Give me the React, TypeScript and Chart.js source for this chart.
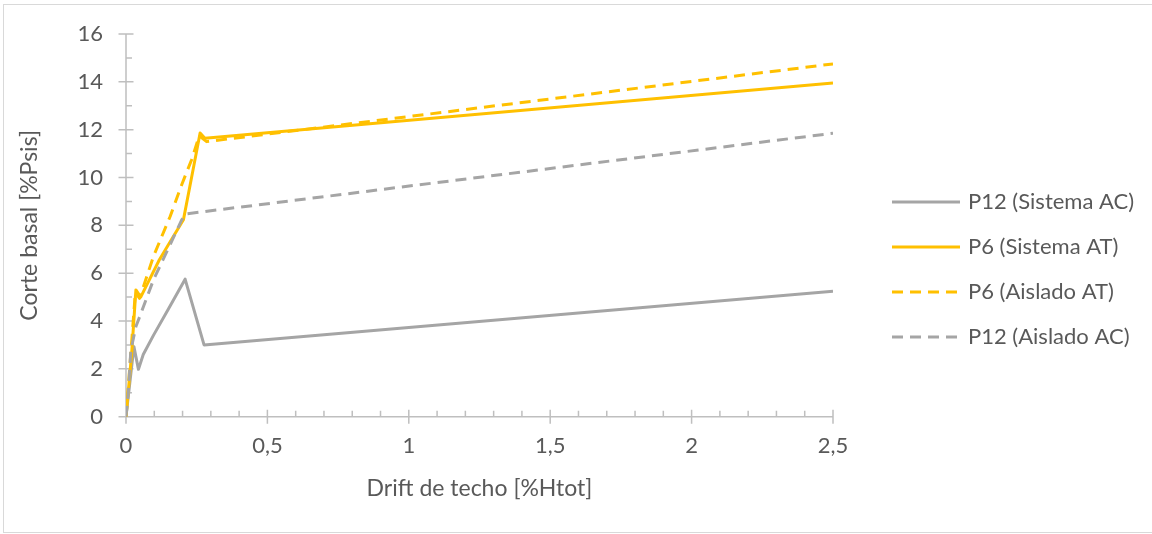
import React, { useEffect, useRef } from 'react';
import { Chart, registerables } from 'chart.js';

Chart.register(...registerables);

// ---- Data ----
const seriesNames = ['P12 (Sistema AC)', 'P6 (Sistema AT)', 'P6 (Aislado AT)', 'P12 (Aislado AC)'];

const p12SistemaACX = [0, 0.028, 0.044, 0.061, 0.097, 0.15, 0.209, 0.276, 2.5];
const p12SistemaACY = [0, 2.93, 1.98, 2.6, 3.4, 4.5, 5.75, 3.0, 5.25];

const p6SistemaATX = [0, 0.02, 0.035, 0.052, 0.118, 0.203, 0.24, 0.262, 0.279, 2.5];
const p6SistemaATY = [0, 2.65, 5.3, 5.0, 6.56, 8.23, 10.5, 11.86, 11.64, 13.95];

const p6AisladoATX = [0, 0.018, 0.033, 0.048, 0.097, 0.156, 0.197, 0.232, 0.259, 0.285, 2.5];
const p6AisladoATY = [0, 2.8, 5.2, 4.95, 6.7, 8.37, 9.7, 10.74, 11.74, 11.5, 14.75];

const p12AisladoACX = [0, 0.008, 0.017, 0.035, 0.049, 0.097, 0.15, 0.197, 0.212, 2.5];
const p12AisladoACY = [0, 0.98, 2.76, 3.77, 4.2, 5.72, 7.04, 8.23, 8.48, 11.85];

const xTickLabels = ['0', '0,5', '1', '1,5', '2', '2,5'];
const yTickLabels = ['0', '2', '4', '6', '8', '10', '12', '14', '16'];

const xTitle = 'Drift de techo [%Htot]';
const yTitle = 'Corte basal [%Psis]';

// ---- Styles ----
const GRAY = '#A5A5A5';
const GOLD = '#FFC000';
const TEXT = '#595959';
const AXIS = '#BFBFBF';
const FONT = 'Lato, "Open Sans", sans-serif';

const toPoints = (xs: number[], ys: number[]) => xs.map((x, i) => ({ x, y: ys[i] }));

const axisPlugin = {
  id: 'excelAxes',
  beforeDatasetsDraw(chart: any) {
    const { ctx, scales } = chart;
    const x = scales.x;
    const y = scales.y;
    const x0 = x.getPixelForValue(0);
    const yb = y.getPixelForValue(0);
    ctx.save();
    ctx.strokeStyle = AXIS;
    ctx.lineWidth = 1.5;
    ctx.beginPath();
    ctx.moveTo(x.left, yb);
    ctx.lineTo(x.right, yb);
    ctx.moveTo(x0, y.top);
    ctx.lineTo(x0, y.bottom);
    x.ticks.forEach((t: any) => {
      const px = x.getPixelForValue(t.value);
      ctx.moveTo(px, yb - 7);
      ctx.lineTo(px, yb + 7);
    });
    for (let i = 0; i <= 25; i++) {
      const px = x.getPixelForValue(i * 0.1);
      ctx.moveTo(px, yb);
      ctx.lineTo(px, yb - 6);
    }
    y.ticks.forEach((t: any) => {
      const py = y.getPixelForValue(t.value);
      ctx.moveTo(x0 - 7.5, py);
      ctx.lineTo(x0 + 7.5, py);
    });
    for (let i = 0; i <= 16; i++) {
      const py = y.getPixelForValue(i);
      ctx.moveTo(x0, py);
      ctx.lineTo(x0 + 6, py);
    }
    ctx.stroke();
    ctx.restore();
  },
};

const legendPlugin = {
  id: 'excelLegend',
  afterDraw(chart: any) {
    const { ctx } = chart;
    const lineX0 = 892;
    const lineX1 = 960;
    const textX = 968;
    const y0 = 202;
    const step = 45;
    ctx.save();
    chart.data.datasets.forEach((ds: any, i: number) => {
      const yy = y0 + i * step;
      ctx.beginPath();
      ctx.strokeStyle = ds.borderColor;
      ctx.lineWidth = ds.borderWidth;
      ctx.lineCap = 'butt';
      ctx.setLineDash(ds.borderDash || []);
      ctx.moveTo(lineX0, yy);
      ctx.lineTo(lineX1, yy);
      ctx.stroke();
      ctx.setLineDash([]);
      ctx.fillStyle = TEXT;
      ctx.font = `22px ${FONT}`;
      ctx.textAlign = 'left';
      ctx.textBaseline = 'middle';
      ctx.fillText(ds.label, textX, yy);
    });
    ctx.restore();
  },
};

const borderPlugin = {
  id: 'frame',
  beforeDraw(chart: any) {
    const { ctx } = chart;
    ctx.save();
    ctx.fillStyle = '#FFFFFF';
    ctx.fillRect(0, 0, chart.width, chart.height);
    ctx.strokeStyle = '#D9D9D9';
    ctx.lineWidth = 1;
    ctx.strokeRect(3.5, 4.5, chart.width + 10, 528);
    ctx.restore();
  },
};

export default function App() {
  const ref = useRef<HTMLCanvasElement>(null);

  useEffect(() => {
    const canvas = ref.current;
    if (!canvas) return;
    const dash = [11, 7];
    const chart = new Chart(canvas, {
      type: 'line',
      data: {
        datasets: [
          { label: seriesNames[0], data: toPoints(p12SistemaACX, p12SistemaACY), borderColor: GRAY, backgroundColor: GRAY, borderWidth: 3, order: 3 },
          { label: seriesNames[1], data: toPoints(p6SistemaATX, p6SistemaATY), borderColor: GOLD, backgroundColor: GOLD, borderWidth: 3, order: 2 },
          { label: seriesNames[2], data: toPoints(p6AisladoATX, p6AisladoATY), borderColor: GOLD, backgroundColor: GOLD, borderWidth: 3, borderDash: dash, order: 1 },
          { label: seriesNames[3], data: toPoints(p12AisladoACX, p12AisladoACY), borderColor: GRAY, backgroundColor: GRAY, borderWidth: 3, borderDash: dash, order: 0 },
        ] as any,
      },
      options: {
        responsive: false,
        animation: false,
        parsing: false as any,
        elements: {
          point: { radius: 0, hoverRadius: 0 },
          line: { tension: 0, fill: false, borderCapStyle: 'butt', borderJoinStyle: 'round' },
        },
        layout: { padding: { left: 0, top: 34, right: 319, bottom: 0 } },
        plugins: {
          legend: { display: false },
          tooltip: { enabled: false },
        },
        scales: {
          x: {
            type: 'linear',
            min: 0,
            max: 2.5,
            grid: { display: false },
            border: { display: false },
            ticks: {
              stepSize: 0.5,
              padding: 8,
              color: TEXT,
              font: { family: FONT, size: 22 },
              maxRotation: 0,
              autoSkip: false,
              callback: (_v: any, i: number) => xTickLabels[i],
            },
            title: {
              display: true,
              text: xTitle,
              color: TEXT,
              font: { family: FONT, size: 23 },
              padding: { top: 0, bottom: 32 },
            },
            afterFit: (s: any) => {
              s.height = 117.3;
            },
          },
          y: {
            type: 'linear',
            min: 0,
            max: 16,
            grid: { display: false },
            border: { display: false },
            ticks: {
              stepSize: 2,
              padding: 15,
              color: TEXT,
              font: { family: FONT, size: 22 },
              autoSkip: false,
              callback: (_v: any, i: number) => yTickLabels[i],
            },
            title: {
              display: true,
              text: yTitle,
              color: TEXT,
              font: { family: FONT, size: 23 },
              padding: { top: 16, bottom: 0 },
            },
            afterFit: (s: any) => {
              s.width = 126;
            },
          },
        },
      } as any,
      plugins: [borderPlugin, axisPlugin, legendPlugin],
    });
    return () => chart.destroy();
  }, []);

  return (
    <div style={{ position: 'absolute', left: 0, top: 0, width: 1152, height: 534, background: '#fff' }}>
      <canvas ref={ref} width={1152} height={534} style={{ display: 'block', width: 1152, height: 534 }} />
    </div>
  );
}
